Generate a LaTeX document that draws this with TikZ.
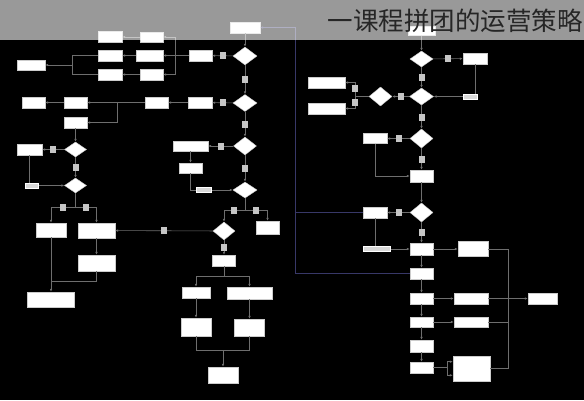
\documentclass[tikz,border=0pt]{standalone}
\usepackage{fontspec}
\newfontfamily\cjk{Noto Sans CJK SC}
\usepackage{tikz}
\usetikzlibrary{positioning}
\usetikzlibrary{shapes.geometric}
\usetikzlibrary{arrows.meta}
\usetikzlibrary{calc}
\definecolor{navy}{RGB}{56,56,104}
\definecolor{wiregray}{RGB}{110,110,110}

\begin{document}
\begin{tikzpicture}[x=1pt,y=-1pt,
    box/.style 2 args={rectangle,draw=gray!40,fill=white,line width=0.4pt,inner sep=0pt,minimum width=#1,minimum height=#2},
    dia/.style 2 args={diamond,draw=gray!40,fill=white,line width=0.4pt,inner sep=0pt,minimum width=#1,minimum height=#2},
    tag/.style={rectangle,fill=gray!45,inner sep=0pt,minimum width=6pt,minimum height=7pt},
    note/.style={rectangle,draw=white,fill=gray!30,line width=0.3pt,inner sep=0pt,minimum width=#1,minimum height=5pt},
    plain/.style={draw=wiregray,line width=0.6pt},
    flow/.style={plain,-{Latex[length=3pt,width=2.6pt]}},
    link/.style={draw=navy,line width=0.8pt}]
  \useasboundingbox (0,0) rectangle (584,400);
  \fill[black] (0,0) rectangle (584,400);

  \begin{scope}
    \node[box={30pt}{11pt}] (start) at (245,27.5) {};
    \node[dia={24pt}{18pt}] (q1) at (245,56) {};
    \node[dia={24pt}{17pt}] (q2) at (245,103) {};
    \node[dia={23pt}{18pt}] (q3) at (245,146) {};
    \node[dia={24pt}{16pt}] (q4) at (245,190) {};
    \node[dia={22pt}{18pt}] (q5) at (224,231) {};
    \node[box={23pt}{11pt}] (fa) at (200.5,55.5) {};
    \node[box={24pt}{11pt}] (fb) at (200,102.5) {};
    \node[box={35pt}{10pt}] (fc) at (190.5,146) {};
    \node[box={23pt}{10pt}] (fd) at (190.5,168) {};
    \node[box={23pt}{13pt}] (fe) at (267.5,227.5) {};
    \node[box={23pt}{11pt}] (ff) at (224,260.5) {};
    \node[box={28pt}{11pt}] (ga) at (196,292.5) {};
    \node[box={45pt}{12pt}] (gb) at (249.5,293) {};
    \node[box={30pt}{18pt}] (ha) at (196,327) {};
    \node[box={30pt}{17pt}] (hb) at (249.5,327.5) {};
    \node[box={30pt}{16pt}] (done) at (223,375) {};

    \node[box={23pt}{10pt}] (ua) at (151.5,37) {};
    \node[box={27pt}{11pt}] (ub) at (149.5,55.5) {};
    \node[box={23pt}{11pt}] (uc) at (151.5,74.5) {};
    \node[box={24pt}{11pt}] (va) at (110,37) {};
    \node[box={24pt}{11pt}] (vb) at (110,55.5) {};
    \node[box={24pt}{11pt}] (vc) at (110,74.5) {};
    \node[box={28pt}{10pt}] (wa) at (31,65) {};

    \node[box={23pt}{11pt}] (ra) at (156.5,102.5) {};
    \node[box={23pt}{11pt}] (rb) at (75.5,102.5) {};
    \node[box={23pt}{11pt}] (rc) at (33.5,102.5) {};
    \node[box={23pt}{11pt}] (rd) at (75.5,122.5) {};
    \node[dia={22pt}{15pt}] (p1) at (75.5,149.5) {};
    \node[dia={22pt}{15pt}] (p2) at (75.5,185.5) {};
    \node[box={25pt}{11pt}] (la) at (29.5,149.5) {};
    \node[box={30pt}{14pt}] (lb) at (51,230) {};
    \node[box={37pt}{15pt}] (lc) at (96.5,230.5) {};
    \node[box={37pt}{16pt}] (ld) at (96.5,263) {};
    \node[box={47pt}{15pt}] (le) at (51,299.5) {};

    \node[box={27pt}{9pt}] (begin2) at (421.5,31) {};
    \node[dia={23pt}{16pt}] (s1) at (421.5,59) {};
    \node[dia={24pt}{17pt}] (s2) at (421.5,96.5) {};
    \node[dia={23pt}{19pt}] (s3) at (380.5,96.5) {};
    \node[dia={23pt}{19pt}] (s4) at (421.5,138.5) {};
    \node[dia={23pt}{19pt}] (s5) at (421.5,212.5) {};
    \node[box={24pt}{11pt}] (ka) at (475,58.5) {};
    \node[box={37pt}{11pt}] (kb) at (326.5,82.5) {};
    \node[box={37pt}{11pt}] (kc) at (326.5,108.5) {};
    \node[box={24pt}{10pt}] (kd) at (375,138.5) {};
    \node[box={23pt}{12pt}] (ke) at (421.5,176) {};
    \node[box={24pt}{11pt}] (kf) at (375,212.5) {};
    \node[box={23pt}{12pt}] (m1) at (421.5,249) {};
    \node[box={23pt}{11pt}] (m2) at (421.5,273.5) {};
    \node[box={23pt}{11pt}] (m3) at (421.5,298.5) {};
    \node[box={23pt}{10pt}] (m4) at (421.5,322) {};
    \node[box={23pt}{12pt}] (m5) at (421.5,346) {};
    \node[box={23pt}{11pt}] (m6) at (421.5,367.5) {};
    \node[box={30pt}{15pt}] (n1) at (473,249) {};
    \node[box={34pt}{11pt}] (n3) at (471,298.5) {};
    \node[box={34pt}{10pt}] (n4) at (471,322) {};
    \node[box={37pt}{25pt}] (n6) at (471.5,368.5) {};
    \node[box={29pt}{11pt}] (finish) at (542.5,298.5) {};
  \end{scope}

  \coordinate (j1) at (175,55.5);
  \coordinate (j2) at (72,65);
  \coordinate (j3) at (117,102.5);
  \coordinate (j4) at (245,210);
  \coordinate (j5) at (224,276);
  \coordinate (j6) at (223,350);
  \coordinate (j7) at (75.5,207.5);
  \coordinate (j8) at (51,281);
  \coordinate (j9) at (355,96.5);
  \coordinate (j10) at (447,367.5);
  \coordinate (c1) at (508,249);
  \coordinate (c2) at (508,298.5);
  \coordinate (c3) at (508,368.5);
  \coordinate (k1) at (295,27.5);
  \coordinate (k2) at (295,212.5);

  \begin{scope}
    \draw[flow] (start) -- (q1);
    \draw[flow] (q1) -- node[tag]{} (q2);
    \draw[flow] (q2) -- node[tag]{} (q3);
    \draw[flow] (q3) -- node[tag]{} (q4);
    \draw[flow] (q1) -- node[tag]{} (fa);
    \draw[flow] (q2) -- node[tag]{} (fb);
    \draw[flow] (q3) -- node[tag]{} (fc);
    \draw[flow] (fc) -- (fd);
    \draw[flow] (fd) |- node[note=15pt,pos=0.65]{} (q4);
    \draw[plain] (q4) -- (j4);
    \draw[flow] (j4) -| node[tag,pos=0.26]{} (q5);
    \draw[flow] (j4) -| node[tag,pos=0.25]{} (fe);
    \draw[flow] (q5) -- node[tag]{} (lc);
    \draw[flow] (q5) -- node[tag]{} (ff);
    \draw[plain] (ff) -- (j5);
    \draw[flow] (j5) -| (ga);
    \draw[flow] (j5) -| (gb);
    \draw[flow] (ga) -- (ha);
    \draw[flow] (gb) -- (hb);
    \draw[plain] (ha) |- (j6);
    \draw[plain] (hb) |- (j6);
    \draw[flow] (j6) -- (done);

    \draw[flow] (fa) -- (ub);
    \draw[flow] (j1) |- (ua);
    \draw[flow] (j1) |- (uc);
    \draw[flow] (ua) -- (va);
    \draw[flow] (ub) -- (vb);
    \draw[flow] (uc) -- (vc);
    \draw[plain] (vb) -| (j2);
    \draw[plain] (vc) -| (j2);
    \draw[flow] (j2) -- (wa);

    \draw[flow] (fb) -- (ra);
    \draw[flow] (ra) -- (rb);
    \draw[flow] (rb) -- (rc);
    \draw[flow] (j3) |- (rd);
    \draw[flow] (rd) -- (p1);
    \draw[flow] (p1) -- node[tag]{} (la);
    \draw[flow] (p1) -- node[tag]{} (p2);
    \draw[flow] (la) |- node[note=13pt,pos=0.53]{} (p2);
    \draw[plain] (p2) -- (j7);
    \draw[flow] (j7) -| node[tag,pos=0.26]{} (lb);
    \draw[flow] (j7) -| node[tag,pos=0.24]{} (lc);
    \draw[flow] (lc) -- (ld);
    \draw[plain] (ld) |- (j8);
    \draw[flow] (lb) -- (le);

    \draw[flow] (begin2) -- (s1);
    \draw[flow] (s1) -- node[tag]{} (ka);
    \draw[flow] (s1) -- node[tag]{} (s2);
    \draw[flow] (ka) |- node[note=14pt,pos=0.56]{} (s2);
    \draw[flow] (s2) -- node[tag]{} (s3);
    \draw[plain] (s3) -- (j9);
    \draw[flow] (j9) |- node[tag,pos=0.27]{} (kb);
    \draw[flow] (j9) |- node[tag,pos=0.23]{} (kc);
    \draw[flow] (s2) -- node[tag]{} (s4);
    \draw[flow] (s4) -- node[tag]{} (kd);
    \draw[flow] (kd) |- (ke);
    \draw[flow] (s4) -- node[tag]{} (ke);
    \draw[flow] (ke) -- (s5);
    \draw[flow] (s5) -- node[tag]{} (kf);
    \draw[flow] (s5) -- node[tag]{} (m1);
    \draw[flow] (kf) |- node[note=27pt,pos=0.52]{} (m1);
    \draw[flow] (m1) -- (n1);
    \draw[flow] (m1) -- (m2);
    \draw[flow] (m2) -- (m3);
    \draw[flow] (m3) -- (m4);
    \draw[flow] (m4) -- (m5);
    \draw[flow] (m5) -- (m6);
    \draw[flow] (m3) -- (n3);
    \draw[flow] (m4) -- (n4);
    \draw[plain] (m6) -- (j10);
    \draw[flow] (j10) |- (n6.160);
    \draw[flow] (j10) |- (n6.200);
    \draw[plain] (n1) -- (c1) -- (c3) -- (n6);
    \draw[plain] (n3) -- (c2);
    \draw[plain] (n4.east) -- (n4.east -| c1);
    \draw[flow] (c2) -- (finish);
    \draw[link,-{Latex[length=3pt,width=2.6pt]}] (m2) -| (k1) -- (start);
    \draw[link] (k2) -- (kf);
  \end{scope}

  \fill[white,opacity=0.6] (0,0) rectangle (584,40);
  \node[anchor=east,inner sep=0pt,text=black!85] (title) at (583,21) {\cjk\fontsize{25.5}{26}\selectfont 一课程拼团的运营策略};
\end{tikzpicture}
\end{document}
